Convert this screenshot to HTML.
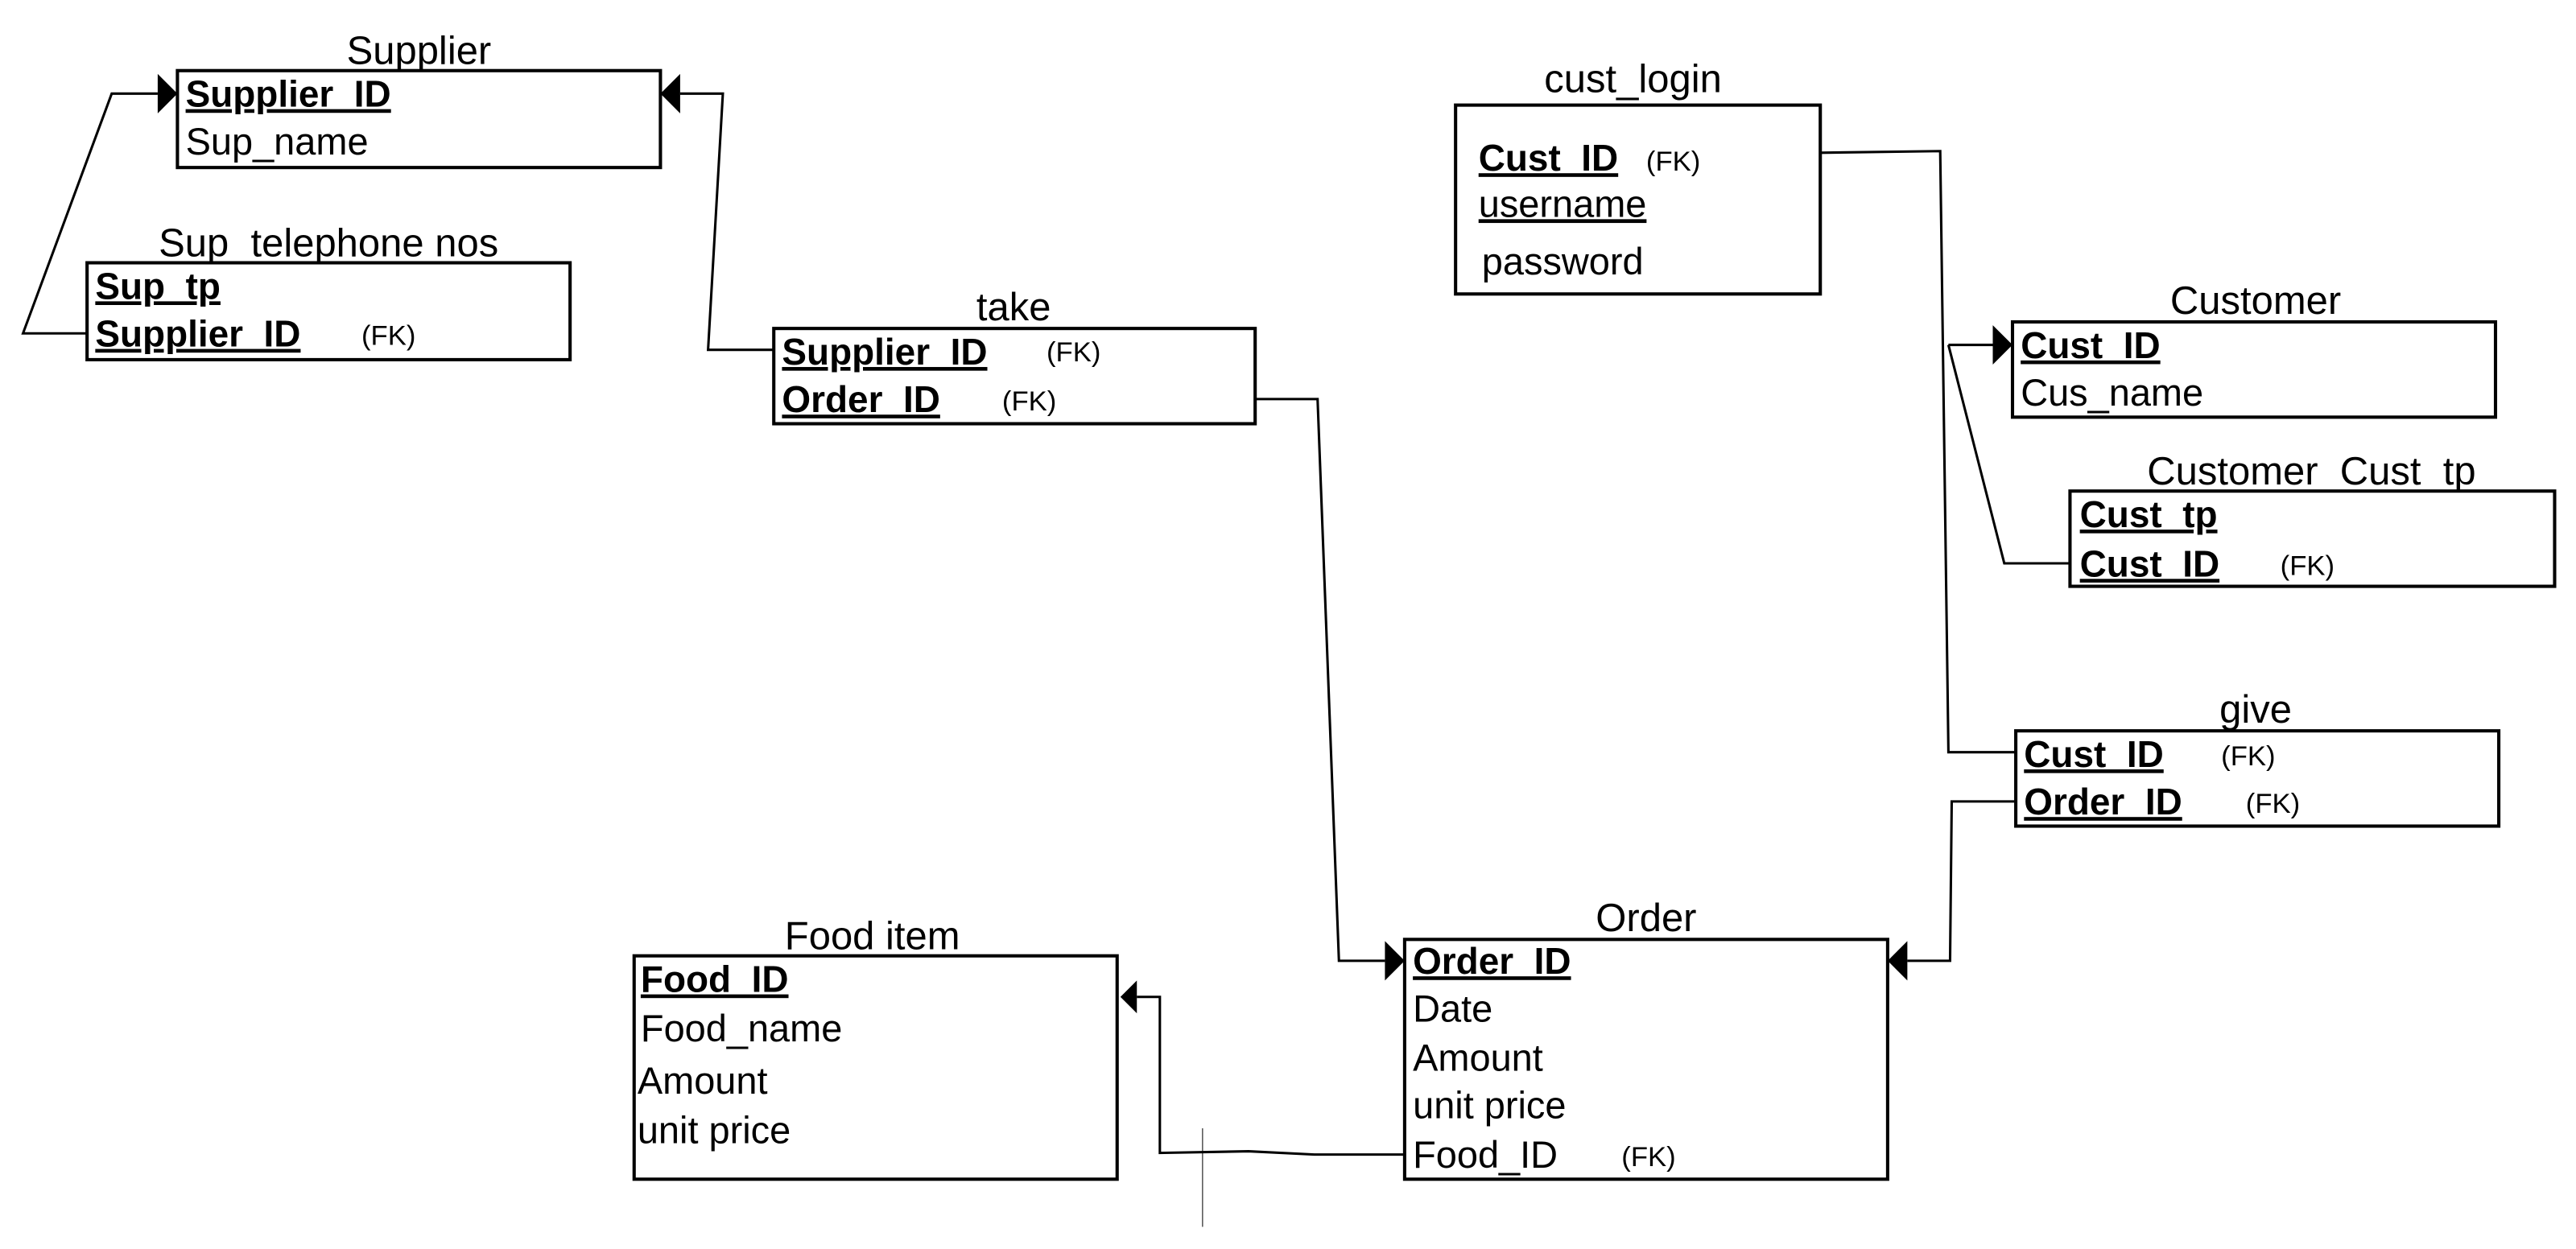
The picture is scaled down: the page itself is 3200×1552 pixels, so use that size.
<!DOCTYPE html>
<html><head><meta charset="utf-8"><style>
html,body{margin:0;padding:0;background:#fff;}
svg{display:block;}
text{font-family:"Liberation Sans",Arial,sans-serif;fill:#000;}
.t{font-size:24px;}
.r{font-size:23px;}
.b{font-size:22.5px;font-weight:bold;text-decoration:underline;}
.u{text-decoration:underline;}
.fk{font-size:17px;}
.box{fill:none;stroke:#000;stroke-width:2;}
.ln{fill:none;stroke:#000;stroke-width:1.5;}
</style></head><body>
<svg width="3200" height="1552" viewBox="0 0 1568 760.5" preserveAspectRatio="none" xmlns="http://www.w3.org/2000/svg">
<!-- Supplier -->
<text class="t" x="255" y="39" text-anchor="middle">Supplier</text>
<rect class="box" x="108" y="43" width="294" height="59"/>
<text class="r b" x="113" y="65">Supplier_ID</text>
<text class="r" x="113" y="94">Sup_name</text>
<!-- Sup_telephone nos -->
<text class="t" x="200" y="156" text-anchor="middle">Sup_telephone nos</text>
<rect class="box" x="53" y="160" width="294" height="59"/>
<text class="r b" x="58" y="182">Sup_tp</text>
<text class="r b" x="58" y="211">Supplier_ID</text>
<text class="fk" x="220" y="210">(FK)</text>
<!-- take -->
<text class="t" x="617" y="195" text-anchor="middle">take</text>
<rect class="box" x="471" y="200" width="293" height="58"/>
<text class="r b" x="476" y="222">Supplier_ID</text>
<text class="fk" x="637" y="220">(FK)</text>
<text class="r b" x="476" y="251">Order_ID</text>
<text class="fk" x="610" y="250">(FK)</text>
<!-- cust_login -->
<text class="t" x="994" y="56" text-anchor="middle">cust_login</text>
<rect class="box" x="886" y="64" width="222" height="115"/>
<text class="r b" x="900" y="104">Cust_ID</text>
<text class="fk" x="1002" y="104">(FK)</text>
<text class="r u" x="900" y="132">username</text>
<text class="r" x="902" y="167">password</text>
<!-- Customer -->
<text class="t" x="1373" y="191" text-anchor="middle">Customer</text>
<rect class="box" x="1225" y="196" width="294" height="58"/>
<text class="r b" x="1230" y="218">Cust_ID</text>
<text class="r" x="1230" y="247">Cus_name</text>
<!-- Customer_Cust_tp -->
<text class="t" x="1407" y="295" text-anchor="middle">Customer_Cust_tp</text>
<rect class="box" x="1260" y="299" width="295" height="58"/>
<text class="r b" x="1266" y="321">Cust_tp</text>
<text class="r b" x="1266" y="351">Cust_ID</text>
<text class="fk" x="1388" y="350">(FK)</text>
<!-- give -->
<text class="t" x="1373" y="440" text-anchor="middle">give</text>
<rect class="box" x="1227" y="445" width="294" height="58"/>
<text class="r b" x="1232" y="467">Cust_ID</text>
<text class="fk" x="1352" y="466">(FK)</text>
<text class="r b" x="1232" y="496">Order_ID</text>
<text class="fk" x="1367" y="495">(FK)</text>
<!-- Order -->
<text class="t" x="1002" y="567" text-anchor="middle">Order</text>
<rect class="box" x="855" y="572" width="294" height="146"/>
<text class="r b" x="860" y="593">Order_ID</text>
<text class="r" x="860" y="622">Date</text>
<text class="r" x="860" y="652">Amount</text>
<text class="r" x="860" y="681">unit price</text>
<text class="r" x="860" y="711">Food_ID</text>
<text class="fk" x="987" y="710">(FK)</text>
<!-- Food item -->
<text class="t" x="531" y="578" text-anchor="middle">Food item</text>
<rect class="box" x="386" y="582" width="294" height="136"/>
<text class="r b" x="390" y="604">Food_ID</text>
<text class="r" x="390" y="634">Food_name</text>
<text class="r" x="388" y="666">Amount</text>
<text class="r" x="388" y="696">unit price</text>
<!-- connectors -->
<polyline class="ln" points="96,57 68,57 14,203 53,203"/>
<polygon points="108,57 96,45 96,69"/>
<polyline class="ln" points="414,57 440,57 431,213 471,213"/>
<polygon points="402,57 414,45 414,69"/>
<polyline class="ln" points="764,243 802,243 815,585 843,585"/>
<polygon points="855,585 843,573 843,597"/>
<polyline class="ln" points="1108,93 1181,92 1186,458 1227,458"/>
<polyline class="ln" points="1186,210 1213,210"/>
<polygon points="1225,210 1213,198 1213,222"/>
<polyline class="ln" points="1186,210 1220,343 1260,343"/>
<polyline class="ln" points="1227,488 1188,488 1187,585 1161,585"/>
<polygon points="1149,585 1161,573 1161,597"/>
<polyline class="ln" points="855,703 800,703 760,701 706,702 706,607 692,607"/>
<polygon points="682,607 692,597 692,617"/>
<line x1="732" y1="687" x2="732" y2="747" stroke="#000" stroke-width="0.5"/>
</svg>
</body></html>
